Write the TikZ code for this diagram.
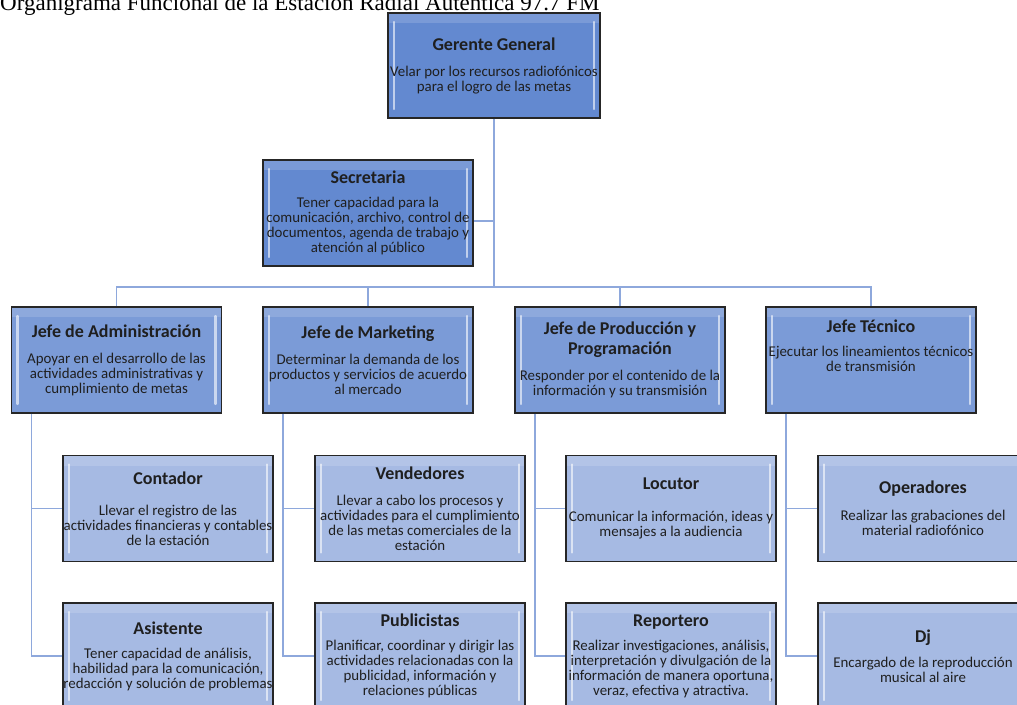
\documentclass[tikz,border=0pt]{standalone}
\usepackage{fontspec}
\setmainfont{Carlito}
\newfontfamily\titlefont{Liberation Serif}
\definecolor{cA}{HTML}{6389D0}
\definecolor{cB}{HTML}{7B9BD7}
\definecolor{cC}{HTML}{A6BAE3}
\definecolor{boxline}{HTML}{262626}
\definecolor{lineblue}{HTML}{8EA8DC}
\newcommand{\ttl}[1]{{\fontsize{18}{20}\selectfont\bfseries #1}}
\tikzset{
  x=1pt, y=-1pt,
  bev/.style={white, opacity=0.6, line width=2.2pt, line cap=round},
  orgbox/.style={draw=boxline, line width=1.8pt, minimum width=210, minimum height=106,
    inner sep=0pt, align=center, text=black!88,
    font=\fontsize{14.9}{15}\selectfont,
    path picture={
      \draw[bev] ([xshift=6pt,yshift=-9pt]path picture bounding box.north west) -- ([xshift=6pt,yshift=9pt]path picture bounding box.south west);
      \draw[bev] ([xshift=-6pt,yshift=-9pt]path picture bounding box.north east) -- ([xshift=-6pt,yshift=9pt]path picture bounding box.south east);
      \fill[white, opacity=0.15] (path picture bounding box.north west) rectangle ([yshift=-10pt]path picture bounding box.north east);
    }},
  lvlA/.style={orgbox, fill=cA},
  lvlB/.style={orgbox, fill=cB},
  lvlC/.style={orgbox, fill=cC},
  conn/.style={draw=lineblue, line width=1.6pt}
}
\begin{document}
\begin{tikzpicture}
\useasboundingbox (0,0) rectangle (1017,704);
\fill[white] (0,0) rectangle (1017,704);
% title
\node[anchor=base west, inner sep=0pt, font=\titlefont\fontsize{23}{26}\selectfont] (title) at (0,10) {Organigrama Funcional de la Estación Radial Auténtica 97.7 FM};
% level 1
\node[lvlA, minimum width=212, minimum height=105] (gg) at (494,65.5) {\ttl{Gerente General}\\[11pt]Velar por los recursos radiofónicos\\para el logro de las metas};
\node[lvlA] (sec) at (368,213) {\ttl{Secretaria}\\[9pt]Tener capacidad para la\\comunicación, archivo, control de\\documentos, agenda de trabajo y\\atención al público};
% jefes
\node[lvlB] (ja) at (116.5,360) {\ttl{Jefe de Administración}\\[11pt]Apoyar en el desarrollo de las\\actividades administrativas y\\cumplimiento de metas};
\node[lvlB] (jm) at (368,360) {\ttl{Jefe de Marketing}\\[11pt]Determinar la demanda de los\\productos y servicios de acuerdo\\al mercado};
\node[lvlB] (jp) at (620,360) {\ttl{Jefe de Producción y}\\[3pt]\ttl{Programación}\\[11pt]Responder por el contenido de la\\información y su transmisión};
\node[lvlB] (jt) at (871,360) {\ttl{Jefe Técnico}\\[9pt]Ejecutar los lineamientos técnicos\\de transmisión\\[9pt]\strut};
% row 2
\node[lvlC] (c1) at (168,508.5) {\ttl{Contador}\\[16pt]Llevar el registro de las\\actividades financieras y contables\\de la estación};
\node[lvlC] (v1) at (420,508.5) {\ttl{Vendedores}\\[11pt]Llevar a cabo los procesos y\\actividades para el cumplimiento\\de las metas comerciales de la\\estación};
\node[lvlC] (l1) at (671,508.5) {\ttl{Locutor}\\[17pt]Comunicar la información, ideas y\\mensajes a la audiencia};
\node[lvlC] (o1) at (923,508.5) {\ttl{Operadores}\\[12pt]Realizar las grabaciones del\\material radiofónico};
% row 3
\node[lvlC] (c2) at (168,656) {\ttl{Asistente}\\[9pt]Tener capacidad de análisis,\\habilidad para la comunicación,\\redacción y solución de problemas};
\node[lvlC] (v2) at (420,656) {\ttl{Publicistas}\\[9pt]Planificar, coordinar y dirigir las\\actividades relacionadas con la\\publicidad, información y\\relaciones públicas};
\node[lvlC] (l2) at (671,656) {\ttl{Reportero}\\[9pt]Realizar investigaciones, análisis,\\interpretación y divulgación de la\\información de manera oportuna,\\veraz, efectiva y atractiva.};
\node[lvlC] (o2) at (923,656) {\ttl{Dj}\\[10pt]Encargado de la reproducción\\musical al aire};
% connectors
\coordinate (bus) at (494,287);
\draw[conn] (gg.south) -- (bus);
\draw[conn] ([yshift=-8pt]sec.east) -- ([yshift=-8pt]sec.east -| gg.south);
\draw[conn] (ja.north) -- (ja.north |- bus) -- (jt.north |- bus) -- (jt.north);
\draw[conn] (jm.north) -- (jm.north |- bus);
\draw[conn] (jp.north) -- (jp.north |- bus);
\foreach \j/\a/\b in {ja/c1/c2, jm/v1/v2, jp/l1/l2, jt/o1/o2}{
  \draw[conn] ([xshift=21pt]\j.south west) |- (\a.west);
  \draw[conn] ([xshift=21pt]\j.south west) |- (\b.west);
}
\end{tikzpicture}
\end{document}
